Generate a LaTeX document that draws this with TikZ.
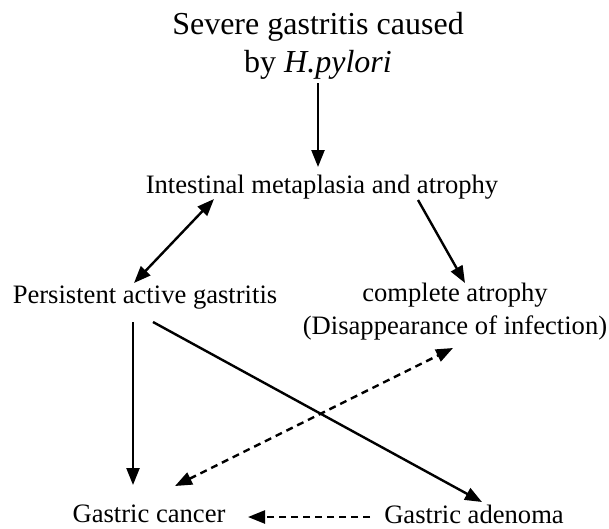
\documentclass[tikz,border=0pt]{standalone}
\usepackage{fontspec}
\setmainfont{Liberation Serif}
\usepackage{tikz}
\usetikzlibrary{arrows.meta,positioning,calc}

\begin{document}
\begin{tikzpicture}[
  x=1pt, y=-1pt,
  stage/.style={align=center, inner sep=0pt, font=\fontsize{26.6}{33}\selectfont},
  headline/.style={align=center, inner sep=0pt, font=\fontsize{32}{38}\selectfont},
  link/.style={-{Triangle[length=17pt, width=13pt]}, line width=2.4pt},
  bilink/.style={{Triangle[length=17pt, width=13pt]}-{Triangle[length=17pt, width=13pt]}, line width=2.4pt},
  dlink/.style={link, dash pattern=on 7pt off 5pt},
  dbilink/.style={bilink, dash pattern=on 7pt off 5pt},
]
  \useasboundingbox (0,0) rectangle (609,528);

  % Stages
  \node[headline] (hp) at (318,46) {Severe gastritis caused\\by \textit{H.pylori}};
  \node[stage] (metapl) at (322,187) {Intestinal metaplasia and atrophy};
  \node[stage] (active) at (145,298) {Persistent active gastritis};
  \node[stage] (atroph) at (455,312) {complete atrophy\\(Disappearance of infection)};
  \node[stage] (cancer) at (149,514) {Gastric cancer};
  \node[stage] (adenoma) at (474,514) {Gastric adenoma};

  % Links
  \draw[link] ($(hp)+(0,37)$) -- ($(metapl)+(-4,-20)$);
  \draw[bilink] ($(active)+(-11,-15)$) -- ($(metapl)+(-108,12)$);
  \draw[link] ($(metapl)+(96,13)$) -- ($(atroph)+(10,-29)$);
  \draw[link] ($(active)+(-12,24)$) -- ($(cancer)+(-16,-29)$);
  \draw[link] ($(active)+(8,24)$) -- ($(adenoma)+(8,-12)$);
  \draw[dbilink] ($(cancer)+(26,-28)$) -- ($(atroph)+(-2,36)$);
  \draw[dlink] ($(adenoma)+(-104,3)$) -- ($(cancer)+(99,3)$);
\end{tikzpicture}
\end{document}
